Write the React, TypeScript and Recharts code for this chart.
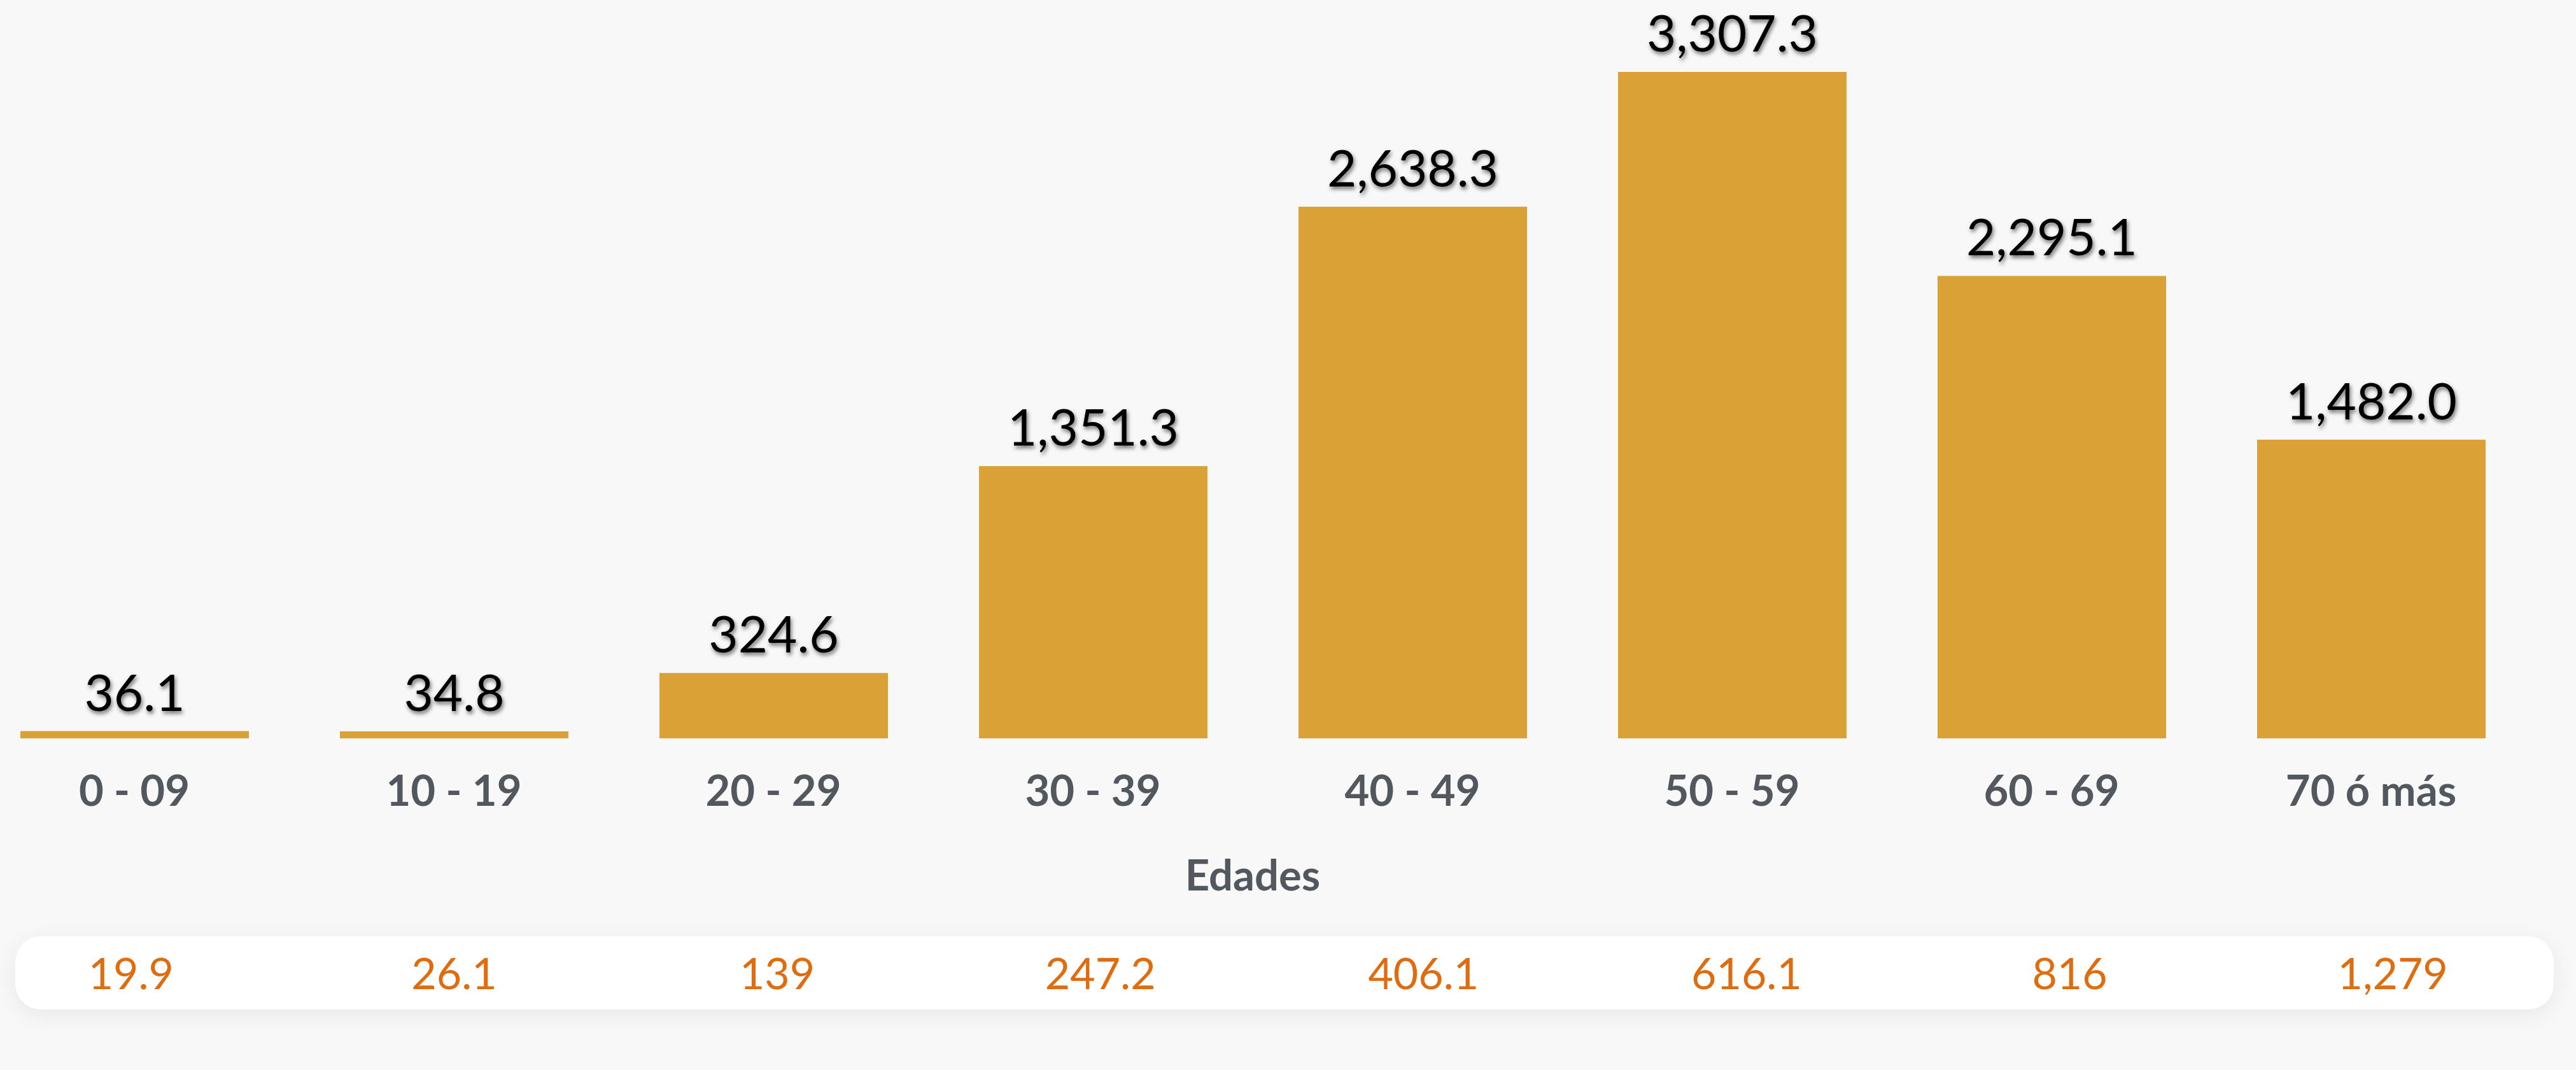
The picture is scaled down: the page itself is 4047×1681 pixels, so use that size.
import React from 'react';
import { BarChart, Bar, XAxis, YAxis, LabelList, Label } from 'recharts';

// ---- data ----
const categorias = ['0 - 09', '10 - 19', '20 - 29', '30 - 39', '40 - 49', '50 - 59', '60 - 69', '70 ó más'];
const casos = [36.1, 34.8, 324.6, 1351.3, 2638.3, 3307.3, 2295.1, 1482.0];
const tasas = [19.9, 26.1, 139, 247.2, 406.1, 616.1, 816, 1279];
const yMax = 3500;

const data = categorias.map((edad, i) => ({ edad, casos: casos[i], tasa: tasas[i] }));

const FONT = "Lato, 'Noto Sans', sans-serif";
const BAR_COLOR = '#DAA236';
const AXIS_COLOR = '#53585F';
const ORANGE = '#E06C10';

const fmt1 = (v: number) => v.toLocaleString('en-US', { minimumFractionDigits: 1, maximumFractionDigits: 1 });
const fmtTasa = (v: number) => v.toLocaleString('en-US');

const ValorLabel = (props: any) => {
  const { x, y, width, value } = props;
  return (
    <text
      x={Number(x) + Number(width) / 2}
      y={Number(y) - 32}
      textAnchor="middle"
      fill="#000"
      fontFamily={FONT}
      fontSize={80}
      filter="url(#sombraTexto)"
    >
      {fmt1(Number(value))}
    </text>
  );
};

const EdadTick = (props: any) => {
  const { x, y, payload } = props;
  return (
    <text x={x} y={y + 106} textAnchor="middle" fill={AXIS_COLOR} fontFamily={FONT} fontWeight={700} fontSize={67}>
      {payload.value}
    </text>
  );
};

const TasaTick = (props: any) => {
  const { x, y, index } = props;
  return (
    <text x={x} y={y + 82} textAnchor="middle" fill={ORANGE} fontFamily={FONT} fontSize={68}>
      {fmtTasa(tasas[index])}
    </text>
  );
};

export default function App() {
  return (
    <div
      style={{
        position: 'absolute',
        left: 0,
        top: 0,
        width: 4047,
        height: 1681,
        background: '#F8F8F8',
        overflow: 'hidden',
      }}
    >
      <svg width={0} height={0} style={{ position: 'absolute' }}>
        <defs>
          <filter id="sombraTexto" x="-20%" y="-40%" width="140%" height="180%">
            <feDropShadow dx="2" dy="4" stdDeviation="3" floodColor="#000" floodOpacity="0.55" />
          </filter>
        </defs>
      </svg>

      <div style={{ position: 'absolute', left: -40, top: 0 }}>
        <BarChart width={4016} height={1420} data={data} margin={{ top: 52, right: 0, bottom: 0, left: 0 }} barCategoryGap={0}>
          <YAxis hide domain={[0, yMax]} />
          <XAxis
            dataKey="edad"
            axisLine={false}
            tickLine={false}
            tickSize={0}
            tickMargin={0}
            height={260}
            interval={0}
            tick={<EdadTick />}
          >
            <Label
              value="Edades"
              position="insideBottom"
              offset={21}
              fill={AXIS_COLOR}
              fontFamily={FONT}
              fontWeight={700}
              fontSize={67}
            />
          </XAxis>
          <Bar dataKey="casos" fill={BAR_COLOR} barSize={359} isAnimationActive={false}>
            <LabelList dataKey="casos" content={<ValorLabel />} />
          </Bar>
        </BarChart>
      </div>

      <div
        style={{
          position: 'absolute',
          left: 24,
          top: 1471,
          width: 3988,
          height: 115,
          borderRadius: 40,
          background: '#FFFFFF',
          boxShadow: '0 8px 36px rgba(0,0,0,0.07)',
        }}
      />

      <div style={{ position: 'absolute', left: -48, top: 1471 }}>
        <BarChart width={4061} height={116} data={data} margin={{ top: 0, right: 0, bottom: 0, left: 0 }}>
          <YAxis hide domain={[0, 1e9]} />
          <XAxis
            dataKey="edad"
            axisLine={false}
            tickLine={false}
            tickSize={0}
            tickMargin={0}
            height={115}
            interval={0}
            tick={<TasaTick />}
          />
          <Bar dataKey="tasa" fill="transparent" isAnimationActive={false} />
        </BarChart>
      </div>
    </div>
  );
}
